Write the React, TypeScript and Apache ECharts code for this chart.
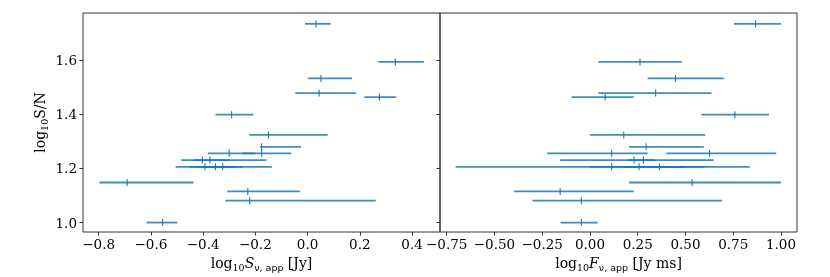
import React, { useEffect, useRef } from "react";
import * as echarts from "echarts";

const yVals = [1.735, 1.594, 1.533, 1.479, 1.464, 1.399, 1.324, 1.280, 1.256, 1.256, 1.231, 1.231, 1.206, 1.206, 1.206, 1.148, 1.115, 1.081, 1.0];
const sCenter = [0.032, 0.336, 0.051, 0.044, 0.275, -0.291, -0.150, -0.176, -0.300, -0.176, -0.403, -0.374, -0.393, -0.353, -0.325, -0.691, -0.229, -0.222, -0.555];
const sLo = [-0.010, 0.271, 0.001, -0.047, 0.217, -0.353, -0.223, -0.182, -0.382, -0.250, -0.484, -0.434, -0.505, -0.450, -0.400, -0.797, -0.307, -0.315, -0.617];
const sHi = [0.089, 0.445, 0.170, 0.186, 0.339, -0.208, 0.077, -0.025, -0.200, -0.063, -0.157, -0.300, -0.280, -0.137, -0.250, -0.437, -0.029, 0.261, -0.499];
const fCenter = [0.867, 0.262, 0.448, 0.344, 0.080, 0.759, 0.177, 0.294, 0.114, 0.626, 0.231, 0.280, 0.114, 0.257, 0.364, 0.535, -0.156, -0.045, -0.045];
const fLo = [0.754, 0.044, 0.302, 0.044, -0.096, 0.584, 0.000, 0.205, -0.224, 0.400, -0.156, 0.200, -0.703, 0.000, 0.170, 0.205, -0.397, -0.301, -0.154];
const fHi = [1.000, 0.481, 0.701, 0.636, 0.229, 0.937, 0.603, 0.596, 0.302, 0.975, 0.647, 0.340, 0.837, 0.600, 0.500, 1.000, 0.229, 0.692, 0.040];

const yTicks = [1.0, 1.2, 1.4, 1.6];
const sTicks = [-0.8, -0.6, -0.4, -0.2, 0.0, 0.2, 0.4];
const fTicks = [-0.75, -0.5, -0.25, 0.0, 0.25, 0.5, 0.75, 1.0];

const FONT = "DejaVu Serif";
const BLUE = "#1f77b4";

const fmt = (v: number, d: number) => v.toFixed(d).replace("-", "\u2212");

const rich = {
  n: { fontFamily: FONT, fontSize: 14, color: "#000", lineHeight: 18, verticalAlign: "middle" },
  s: { fontFamily: FONT, fontSize: 9.5, color: "#000", lineHeight: 18, verticalAlign: "bottom", padding: [6, 0, 0, 0] },
  i: { fontFamily: FONT, fontSize: 14, fontStyle: "italic", color: "#000", lineHeight: 18, verticalAlign: "middle" },
  ss: { fontFamily: "DejaVu Sans", fontSize: 9.5, color: "#000", lineHeight: 18, verticalAlign: "bottom", padding: [6, 0, 0, 0] },
};

function renderErr(params: any, api: any) {
  const y = api.value(3);
  const c = api.coord([api.value(0), y]);
  const l = api.coord([api.value(1), y]);
  const h = api.coord([api.value(2), y]);
  return {
    type: "group",
    children: [
      { type: "line", shape: { x1: l[0], y1: l[1], x2: h[0], y2: h[1] }, style: { stroke: BLUE, lineWidth: 1.8, opacity: 0.85 } },
      { type: "line", shape: { x1: c[0], y1: c[1] - 3.5, x2: c[0], y2: c[1] + 3.5 }, style: { stroke: BLUE, lineWidth: 1.1 } },
    ],
  };
}

export default function App() {
  const ref = useRef<HTMLDivElement>(null);
  useEffect(() => {
    if (!ref.current) return;
    const chart = echarts.init(ref.current, null, { renderer: "svg" });
    const sData = yVals.map((y, k) => [sCenter[k], sLo[k], sHi[k], y]);
    const fData = yVals.map((y, k) => [fCenter[k], fLo[k], fHi[k], y]);
    const axisCommon = {
      axisLine: { show: false, onZero: false },
      splitLine: { show: false },
      axisTick: { show: true, length: 3.5, lineStyle: { color: "#333" } },
      axisLabel: { fontFamily: FONT, fontSize: 13.5, color: "#000", margin: 5 },
    };
    chart.setOption({
      animation: false,
      grid: [
        { left: 83, right: 390, top: 13, bottom: 42, show: true, borderColor: "#333", borderWidth: 1 },
        { left: 440, right: 33, top: 13, bottom: 42, show: true, borderColor: "#333", borderWidth: 1 },
      ],
      xAxis: [
        {
          gridIndex: 0, type: "value", min: -0.86, max: 0.507,
          ...axisCommon,
          axisTick: { ...axisCommon.axisTick, customValues: sTicks },
          axisLabel: { ...axisCommon.axisLabel, customValues: sTicks, formatter: (v: number) => fmt(v, 1) },
          name: "{n|log}{s|10}{i|S}{ss|\u03bd, app}{n| [Jy]}",
          nameLocation: "middle", nameGap: 22,
          nameTextStyle: { rich },
        },
        {
          gridIndex: 1, type: "value", min: -0.785, max: 1.084,
          ...axisCommon,
          axisTick: { ...axisCommon.axisTick, customValues: fTicks },
          axisLabel: { ...axisCommon.axisLabel, customValues: fTicks, formatter: (v: number) => fmt(v, 2) },
          name: "{n|log}{s|10}{i|F}{ss|\u03bd, app}{n| [Jy ms]}",
          nameLocation: "middle", nameGap: 22,
          nameTextStyle: { rich },
        },
      ],
      yAxis: [
        {
          gridIndex: 0, type: "value", min: 0.965, max: 1.775,
          ...axisCommon,
          axisTick: { ...axisCommon.axisTick, customValues: yTicks },
          axisLabel: { ...axisCommon.axisLabel, margin: 6, customValues: yTicks, formatter: (v: number) => fmt(v, 1) },
          name: "{n|log}{s|10}{n|S/N}",
          nameLocation: "middle", nameGap: 34,
          nameTextStyle: { rich },
        },
        {
          gridIndex: 1, type: "value", min: 0.965, max: 1.775,
          ...axisCommon,
          axisTick: { ...axisCommon.axisTick, customValues: yTicks },
          axisLabel: { show: false },
        },
      ],
      series: [
        { type: "custom", xAxisIndex: 0, yAxisIndex: 0, renderItem: renderErr, data: sData, encode: { x: [0, 1, 2], y: 3 } },
        { type: "custom", xAxisIndex: 1, yAxisIndex: 1, renderItem: renderErr, data: fData, encode: { x: [0, 1, 2], y: 3 } },
      ],
    });
    return () => chart.dispose();
  }, []);
  return <div ref={ref} style={{ position: "fixed", left: 0, top: 0, width: 830, height: 277 }} />;
}
